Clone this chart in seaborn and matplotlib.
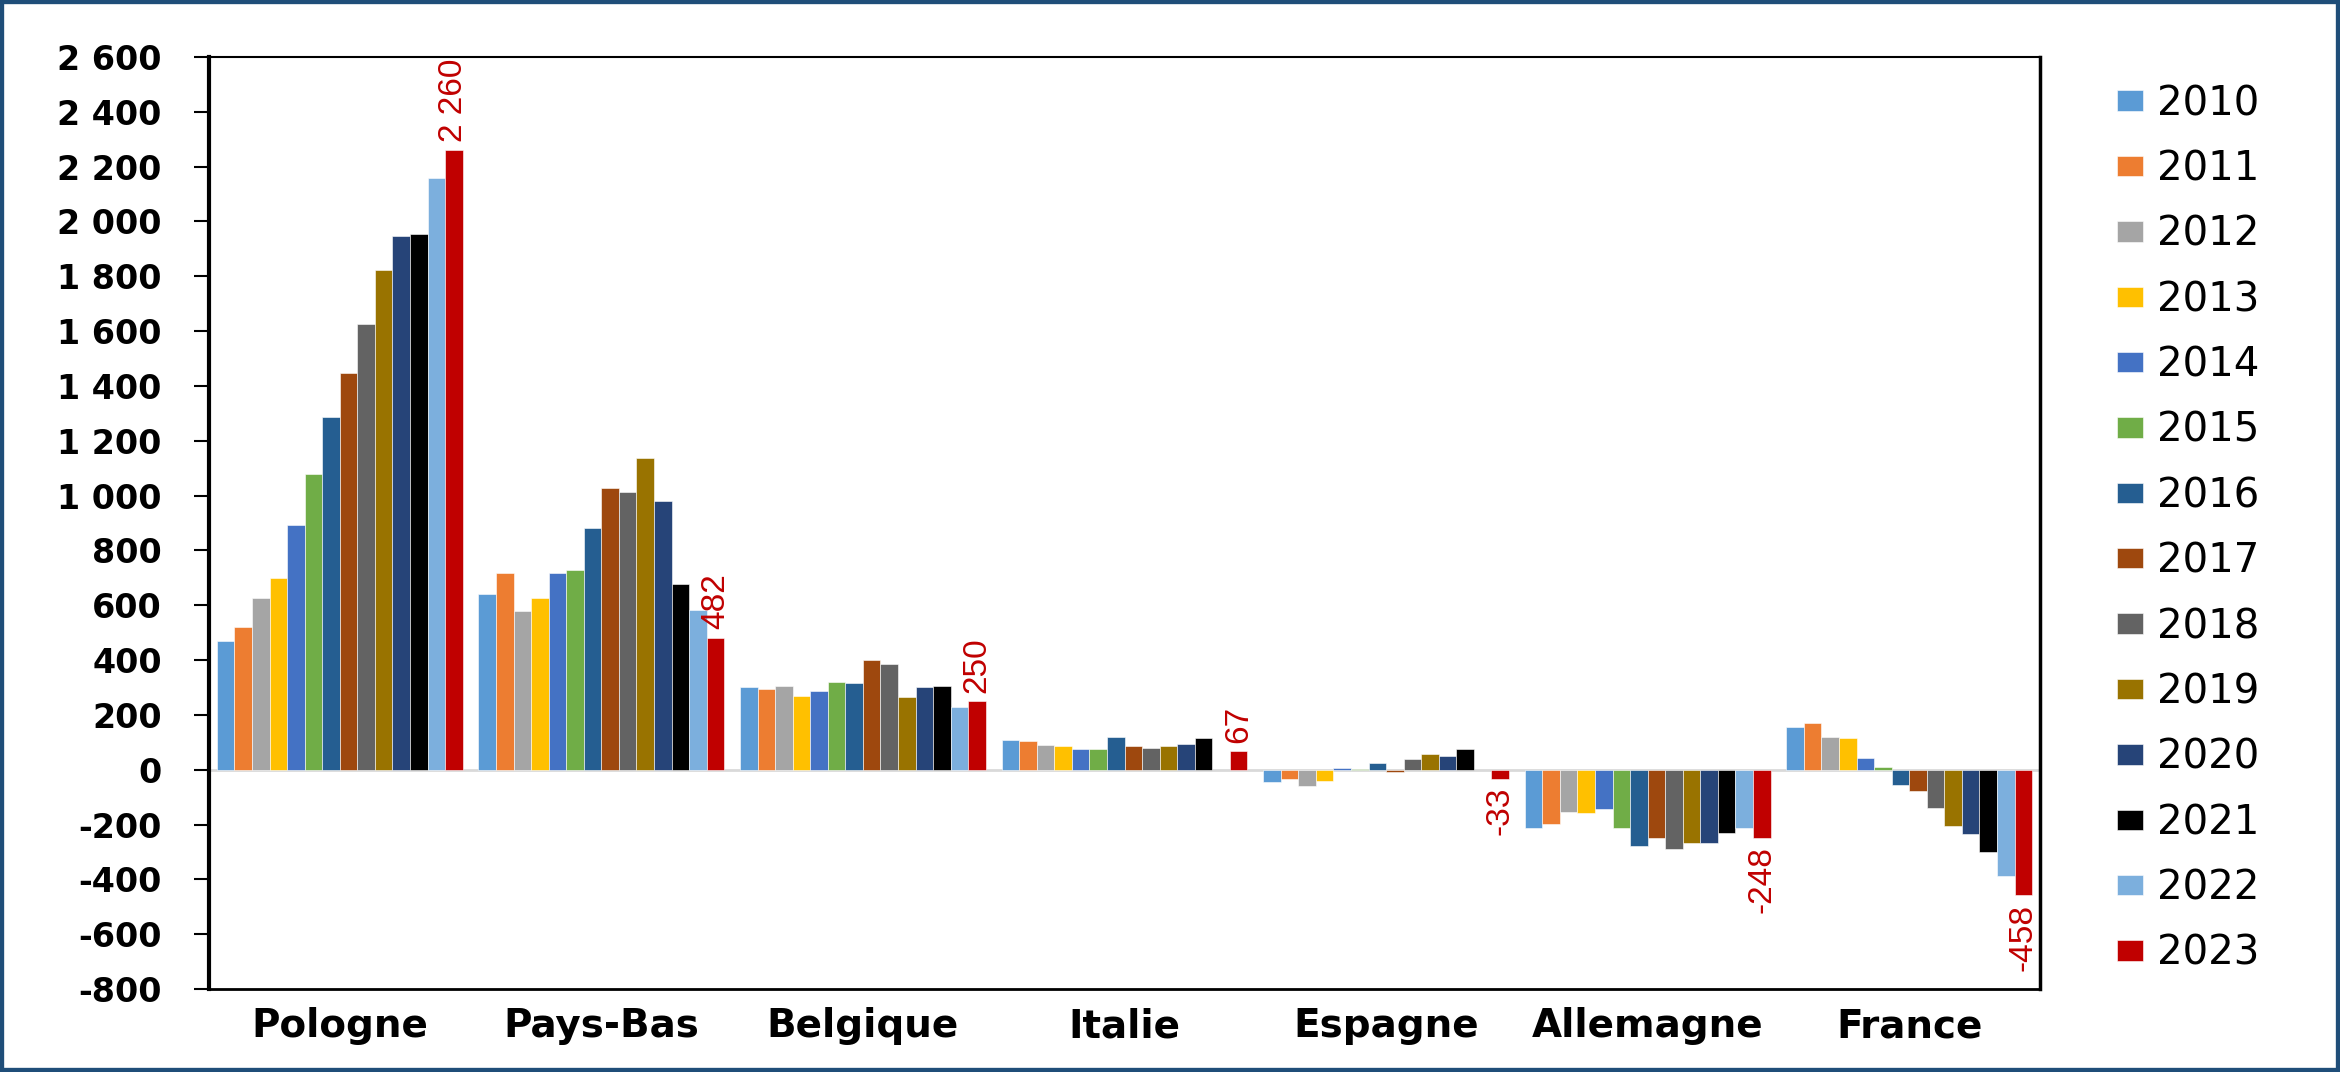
import numpy as np
import pandas as pd
import matplotlib
matplotlib.use("Agg")
import matplotlib.pyplot as plt
import seaborn as sns
from matplotlib import font_manager
from matplotlib.patches import Rectangle
from matplotlib.ticker import FuncFormatter, MultipleLocator

# ---------------- data ----------------
pays = ["Pologne", "Pays-Bas", "Belgique", "Italie", "Espagne", "Allemagne", "France"]
annees = [str(a) for a in range(2010, 2024)]

pologne   = [469, 519, 625, 701, 894, 1077, 1285, 1448, 1627, 1824, 1948, 1955, 2158, 2260]
pays_bas  = [640, 716, 580, 628, 716, 730, 880, 1026, 1012, 1137, 982, 678, 582, 482]
belgique  = [302, 293, 306, 268, 286, 321, 318, 400, 385, 267, 302, 306, 229, 250]
italie    = [107, 103, 91, 88, 75, 75, 118, 88, 80, 88, 95, 114, np.nan, 67]
espagne   = [-45, -33, -60, -40, 7, 1, 23, -10, 39, 57, 50, 77, np.nan, -33]
allemagne = [-211, -197, -155, -158, -142, -211, -280, -250, -291, -269, -269, -231, -211, -248]
france    = [155, 170, 121, 117, 41, 10, -54, -77, -138, -206, -236, -301, -387, -458]

couleurs = ["#5B9BD5", "#ED7D31", "#A5A5A5", "#FFC000", "#4472C4", "#70AD47",
            "#255E91", "#9E480E", "#636363", "#997300", "#264478", "#000000",
            "#7CAFDD", "#C00000"]

series = [pologne, pays_bas, belgique, italie, espagne, allemagne, france]
rows = []
for p, vals in zip(pays, series):
    for a, v in zip(annees, vals):
        rows.append({"pays": p, "annee": a, "valeur": v})
df = pd.DataFrame(rows)

# ---------------- style ----------------
sns.set_theme(style="white")
plt.rcParams["font.family"] = ["DejaVu Sans"]

names = {f.name for f in font_manager.fontManager.ttflist}
label_family = "Liberation Sans Narrow" if "Liberation Sans Narrow" in names else "Liberation Sans"

fig = plt.figure(figsize=(23.4, 10.72), dpi=100)
ax = fig.add_axes([209 / 2340, 1 - 989 / 1072, (2040 - 209) / 2340, (989 - 57) / 1072])

sns.barplot(data=df, x="pays", y="valeur", hue="annee", order=pays, hue_order=annees,
            palette=couleurs, saturation=1, width=0.94, errorbar=None, ax=ax,
            edgecolor="white", linewidth=0.4, zorder=3)

ax.set_xlim(-0.5, 6.5)
ax.set_ylim(-800, 2600)
ax.yaxis.set_major_locator(MultipleLocator(200))
ax.yaxis.set_major_formatter(FuncFormatter(lambda v, _: f"{v:,.0f}".replace(",", " ")))
ax.axhline(0, color="#D9D9D9", lw=2, zorder=2)

ax.set_xlabel("")
ax.set_ylabel("")
ax.tick_params(axis="y", direction="out", length=11, width=1.5, pad=23,
               labelsize=24, left=True, colors="black")
ax.tick_params(axis="x", length=0, pad=13, labelsize=28, colors="black")
for lab in ax.get_yticklabels() + ax.get_xticklabels():
    lab.set_fontweight("bold")

for side, lw in [("left", 3), ("right", 2.5), ("top", 1.5), ("bottom", 2)]:
    ax.spines[side].set_visible(True)
    ax.spines[side].set_color("black")
    ax.spines[side].set_linewidth(lw)

# data labels on 2023 bars
cont = ax.containers[len(annees) - 1]
vals23 = [s[-1] for s in series]
ax.bar_label(cont, labels=[f"{v:,.0f}".replace(",", " ") for v in vals23],
             rotation=90, padding=6, color="#C00000", fontsize=24,
             family=label_family)

# legend
leg = ax.legend(loc="upper left", bbox_to_anchor=(2117 / 2340, 1 - 84 / 1072),
                bbox_transform=fig.transFigure, frameon=False, fontsize=29,
                handlelength=0.65, handleheight=0.4, handletextpad=0.35,
                labelspacing=0.63, borderpad=0, borderaxespad=0, title=None)
for t in leg.get_texts():
    t.set_color("black")

# figure border
fig.patches.append(Rectangle((0, 0), 1, 1, transform=fig.transFigure, fill=False,
                             edgecolor="#1F4E79", linewidth=6, zorder=10))

fig.savefig("out.png", dpi=100)
